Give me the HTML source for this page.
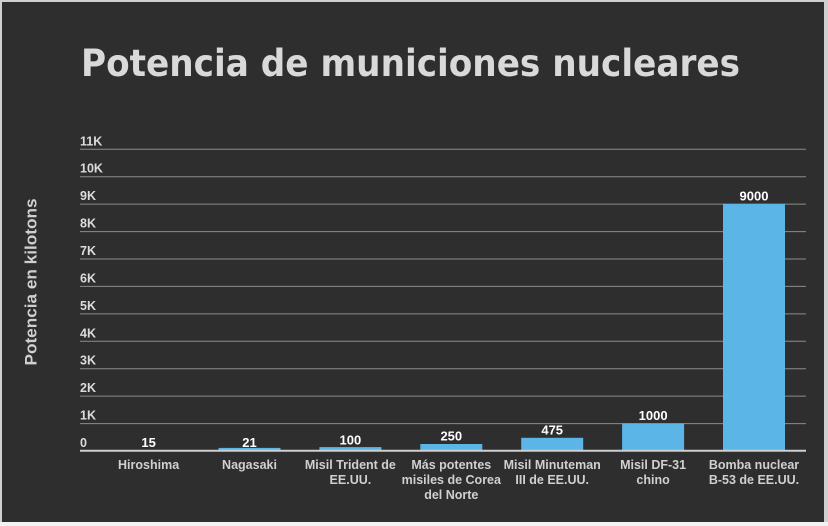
<!DOCTYPE html>
<html><head><meta charset="utf-8"><style>
html,body{margin:0;padding:0;background:#d0d0d0;}
svg{display:block;}
text{font-family:"Liberation Sans",Arial,sans-serif;font-weight:bold;}
</style></head><body>
<svg width="828" height="526" viewBox="0 0 828 526" xmlns="http://www.w3.org/2000/svg">
<rect x="0" y="0" width="828" height="526" fill="#cfcfcf"/>
<rect x="0" y="522" width="828" height="4" fill="#f2f2f2"/>
<rect x="2" y="2" width="822" height="520" fill="#2e2e2e"/>
<text x="81" y="76" font-size="37" fill="#d9d9d9" style="font-family:'DejaVu Sans',sans-serif;font-weight:bold" textLength="659" lengthAdjust="spacingAndGlyphs">Potencia de municiones nucleares</text>
<text transform="translate(36.5,282) rotate(-90)" text-anchor="middle" font-size="16.5" fill="#cfcfcf" textLength="167" lengthAdjust="spacingAndGlyphs">Potencia en kilotons</text>
<g stroke="#8c8c8c" stroke-width="1">
<line x1="80" x2="806" y1="149.3" y2="149.3"/>
<line x1="80" x2="806" y1="176.7" y2="176.7"/>
<line x1="80" x2="806" y1="204.1" y2="204.1"/>
<line x1="80" x2="806" y1="231.6" y2="231.6"/>
<line x1="80" x2="806" y1="259.0" y2="259.0"/>
<line x1="80" x2="806" y1="286.4" y2="286.4"/>
<line x1="80" x2="806" y1="313.9" y2="313.9"/>
<line x1="80" x2="806" y1="341.3" y2="341.3"/>
<line x1="80" x2="806" y1="368.7" y2="368.7"/>
<line x1="80" x2="806" y1="396.1" y2="396.1"/>
<line x1="80" x2="806" y1="423.6" y2="423.6"/>
</g>
<g font-size="12.5" fill="#dcdcdc">
<text x="80" y="145.3">11K</text>
<text x="80" y="172.7">10K</text>
<text x="80" y="200.1">9K</text>
<text x="80" y="227.6">8K</text>
<text x="80" y="255.0">7K</text>
<text x="80" y="282.4">6K</text>
<text x="80" y="309.9">5K</text>
<text x="80" y="337.3">4K</text>
<text x="80" y="364.7">3K</text>
<text x="80" y="392.1">2K</text>
<text x="80" y="419.6">1K</text>
<text x="80" y="447">0</text>
</g>
<g fill="#5bb5e6">
<rect x="117.6" y="450.4" width="62" height="0.4"/>
<rect x="218.5" y="447.9" width="62" height="3"/>
<rect x="319.4" y="447.1" width="62" height="3.7"/>
<rect x="420.3" y="444.0" width="62" height="6.8"/>
<rect x="521.2" y="437.8" width="62" height="13.0"/>
<rect x="622.1" y="423.4" width="62" height="27.4"/>
<rect x="723.0" y="203.9" width="62" height="246.9"/>
</g>
<line x1="80" x2="806" y1="450.8" y2="450.8" stroke="#cfcfcf" stroke-width="2"/>
<g font-size="13" fill="#ffffff" text-anchor="middle">
<text x="148.6" y="447">15</text>
<text x="249.5" y="446.8">21</text>
<text x="350.4" y="444.3">100</text>
<text x="451.3" y="440.5">250</text>
<text x="552.2" y="434.3">475</text>
<text x="653.1" y="420">1000</text>
<text x="754" y="200.5">9000</text>
</g>
<g font-size="12.5" fill="#d0d0d0" text-anchor="middle">
<text x="148.6" y="469">Hiroshima</text>
<text x="249.5" y="469">Nagasaki</text>
<text x="350.4" y="469">Misil Trident de</text>
<text x="350.4" y="484">EE.UU.</text>
<text x="451.3" y="469">Más potentes</text>
<text x="451.3" y="484">misiles de Corea</text>
<text x="451.3" y="499">del Norte</text>
<text x="552.2" y="469">Misil Minuteman</text>
<text x="552.2" y="484">III de EE.UU.</text>
<text x="653.1" y="469">Misil DF-31</text>
<text x="653.1" y="484">chino</text>
<text x="754" y="469">Bomba nuclear</text>
<text x="754" y="484">B-53 de EE.UU.</text>
</g>
</svg>
</body></html>
